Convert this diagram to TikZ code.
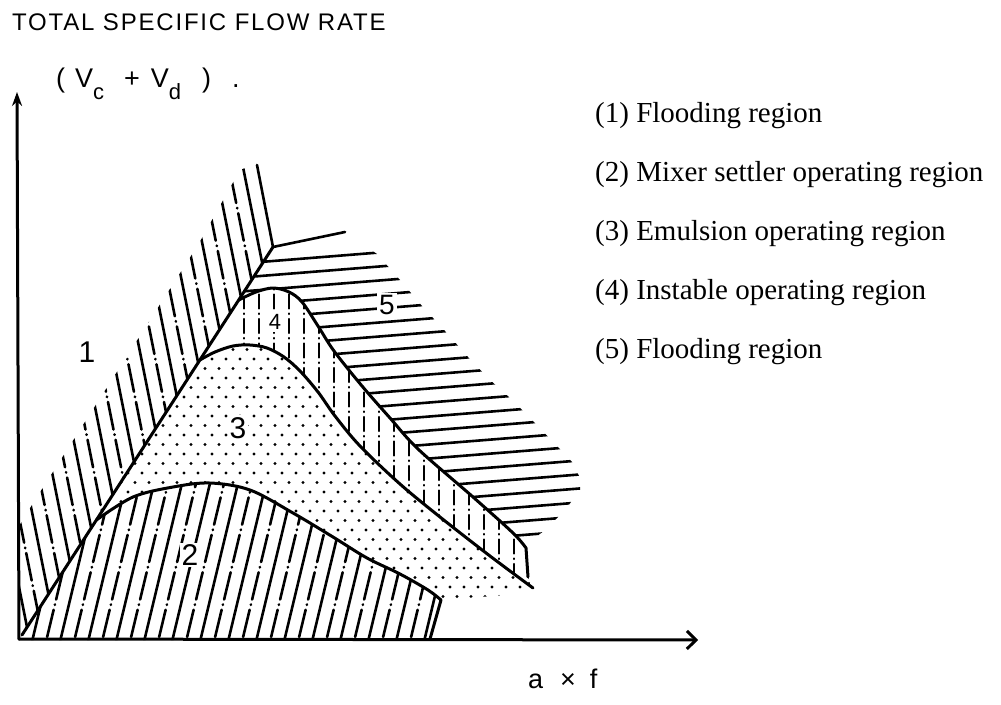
\documentclass[tikz,border=0pt]{standalone}
\usepackage{fontspec}
\setmainfont{Liberation Serif}
\newfontfamily\letterfont{Liberation Sans}
\newfontfamily\titlefont{Liberation Sans}[LetterSpace=7.5]
\usetikzlibrary{arrows.meta,calc}
\begin{document}
\begin{tikzpicture}[x=1pt,y=-1pt,line cap=round,line join=round,
  boundary/.style={line width=3pt},
  axisline/.style={line width=3pt},
  hatchline/.style={line width=2.6pt},
  hatchdd/.style={line width=2.6pt,dash pattern=on 28pt off 5pt on 0.5pt off 5pt},
  vdd/.style={line width=2.4pt,dash pattern=on 14pt off 5pt on 0.5pt off 5pt},
  legendtext/.style={anchor=west,inner sep=0pt,font=\fontsize{29}{29}\selectfont},
  regionnum/.style={font=\letterfont\fontsize{30}{30}\selectfont,inner sep=2pt},
  masked/.style={regionnum,fill=white}]
\useasboundingbox (0,0) rectangle (1001,704);

\coordinate (O) at (19,639);
\coordinate (Ytop) at (17,92);
\coordinate (Xend) at (698,640);
\coordinate (L0) at (22,635);
\coordinate (A) at (273,247);
\coordinate (P) at ($(L0)!0.2964!(A)$);
\coordinate (Q) at ($(L0)!0.7088!(A)$);
\coordinate (R) at ($(L0)!0.8634!(A)$);

% region 1 : flooding (left)
\begin{scope}
\clip (A) -- (L0) -- (19,639) -- (19,526) -- (35,500) -- (198,245) -- (240,170) -- (258,163) -- cycle;
\foreach \k in {1,3,...,25} {\draw[hatchline] ({223.6-14*\k+20},100) -- ({223.6-14*\k+140},700);}
\foreach \k in {2,4,...,24} {\draw[hatchdd] ({223.6-14*\k+20},100) -- ({223.6-14*\k+140},700);}
\end{scope}
\draw[hatchline] (A) -- (257,165);

% region 2 : mixer settler
\begin{scope}
\clip (L0) -- (P) -- plot[smooth,tension=0.55] coordinates {(P) (133,497) (173,487) (210,483) (250,490) (293,513) (333,537) (367,558) (400,574) (428,590) (441,600)} -- (430,640) -- (19,640) -- cycle;
\foreach \k in {0,2,...,34} {\draw[hatchline] ({130+14*\k-0.24*460},460) -- ({130+14*\k-0.24*660},660);}
\foreach \k in {1,3,...,33} {\draw[hatchdd] ({130+14*\k-0.24*460},460) -- ({130+14*\k-0.24*660},660);}
\end{scope}

% region 3 : emulsion (dots)
\begin{scope}
\clip (P) -- (Q) -- plot[smooth,tension=0.55] coordinates {(Q) (215,352) (233,346) (250,345) (267,348) (284,357) (300,371) (318,392) (335,416) (360,446) (400,484) (440,517) (490,556) (533,588)} -- (520,594) -- (441,600) -- plot[smooth,tension=0.55] coordinates {(441,600) (428,590) (400,574) (367,558) (333,537) (293,513) (250,490) (210,483) (173,487) (133,497) (P)} -- cycle;
\foreach \r in {0,...,28} {\foreach \c in {0,...,32} {\fill ({100+14*\c+7*mod(\r,2)},{340+9.5*\r}) circle[radius=1.6pt];}}
\end{scope}

% region 4 : instable
\begin{scope}
\clip (Q) -- (R) -- plot[smooth,tension=0.55] coordinates {(R) (256,292) (273,288) (289,292) (302,302) (318,326) (334,351) (362,386) (390,418) (418,449) (473,497) (513,533) (526,548)} -- (528,577) -- (533,588) -- plot[smooth,tension=0.55] coordinates {(533,588) (490,556) (440,517) (400,484) (360,446) (335,416) (318,392) (300,371) (284,357) (267,348) (250,345) (233,346) (215,352) (Q)} -- cycle;
\foreach \k in {0,...,20} {\draw[vdd] ({244+15*\k},270) -- ({244+15*\k},600);}
\end{scope}

% region 5 : flooding (right)
\begin{scope}
\clip (A) -- (345,232) -- (377,254) -- (400,280) -- (422,306) -- (445,331) -- (468,357) -- (490,380) -- (510,398) -- (532,420) -- (557,446) -- (572,462) -- (580,478) -- (580,490) -- (565,510) -- (545,530) -- (532,540) -- (526,548) -- plot[smooth,tension=0.55] coordinates {(526,548) (513,533) (473,497) (418,449) (390,418) (362,386) (334,351) (318,326) (302,302) (289,292) (273,288) (256,292) (R)} -- cycle;
\foreach \k in {1,...,24} {\draw[hatchline] (230,{247+14*\k+3.44}) -- (600,{247+14*\k-26.16});}
\end{scope}
\draw[hatchline] (A) -- (345,232);

% boundaries
\draw[boundary] (L0) -- (A);
\draw[boundary] plot[smooth,tension=0.55] coordinates {(P) (133,497) (173,487) (210,483) (250,490) (293,513) (333,537) (367,558) (400,574) (428,590) (441,600)} -- (430,639);
\draw[boundary] plot[smooth,tension=0.55] coordinates {(Q) (215,352) (233,346) (250,345) (267,348) (284,357) (300,371) (318,392) (335,416) (360,446) (400,484) (440,517) (490,556) (533,588)};
\draw[boundary] plot[smooth,tension=0.55] coordinates {(R) (256,292) (273,288) (289,292) (302,302) (318,326) (334,351) (362,386) (390,418) (418,449) (473,497) (513,533) (526,548)} -- (528,577);

% region numbers
\node[regionnum] (n1) at (87,352) {1};
\node[masked] (n2) at (190,555) {2};
\node[masked] (n3) at (238,428) {3};
\node[masked,font=\letterfont\fontsize{22}{22}\selectfont] (n4) at (275,322) {4};
\node[masked,font=\letterfont\fontsize{28}{28}\selectfont] (n5) at (387,305) {5};

% axes
\draw[axisline,-{Stealth[length=14pt,width=10pt]}] (O) -- (Ytop);
\draw[axisline,-{Straight Barb[length=9pt,width=18pt]}] (O) -- (Xend);

% axis texts
\node[anchor=west,inner sep=0pt,font=\titlefont\fontsize{24}{24}\selectfont] (title) at (12,22) {TOTAL SPECIFIC FLOW RATE};
\node[anchor=base west,inner sep=0pt,font=\letterfont\fontsize{27}{27}\selectfont] (flow) at (56,87) {(\kern10pt V\raisebox{-12pt}{\fontsize{22}{22}\selectfont c}\kern20pt+\kern11pt V\raisebox{-12pt}{\fontsize{22}{22}\selectfont d}\kern21pt)\kern21pt.};
\node[anchor=base west,inner sep=0pt,font=\letterfont\fontsize{27}{27}\selectfont] (xlab) at (528,688) {a\kern17pt×\kern14pt f};

% legend
\node[legendtext] (leg1) at (595,116) {(1) Flooding region};
\node[legendtext] (leg2) at (595,175) {(2) Mixer settler operating region};
\node[legendtext] (leg3) at (595,234) {(3) Emulsion operating region};
\node[legendtext] (leg4) at (595,293) {(4) Instable operating region};
\node[legendtext] (leg5) at (595,352) {(5) Flooding region};
\end{tikzpicture}
\end{document}
